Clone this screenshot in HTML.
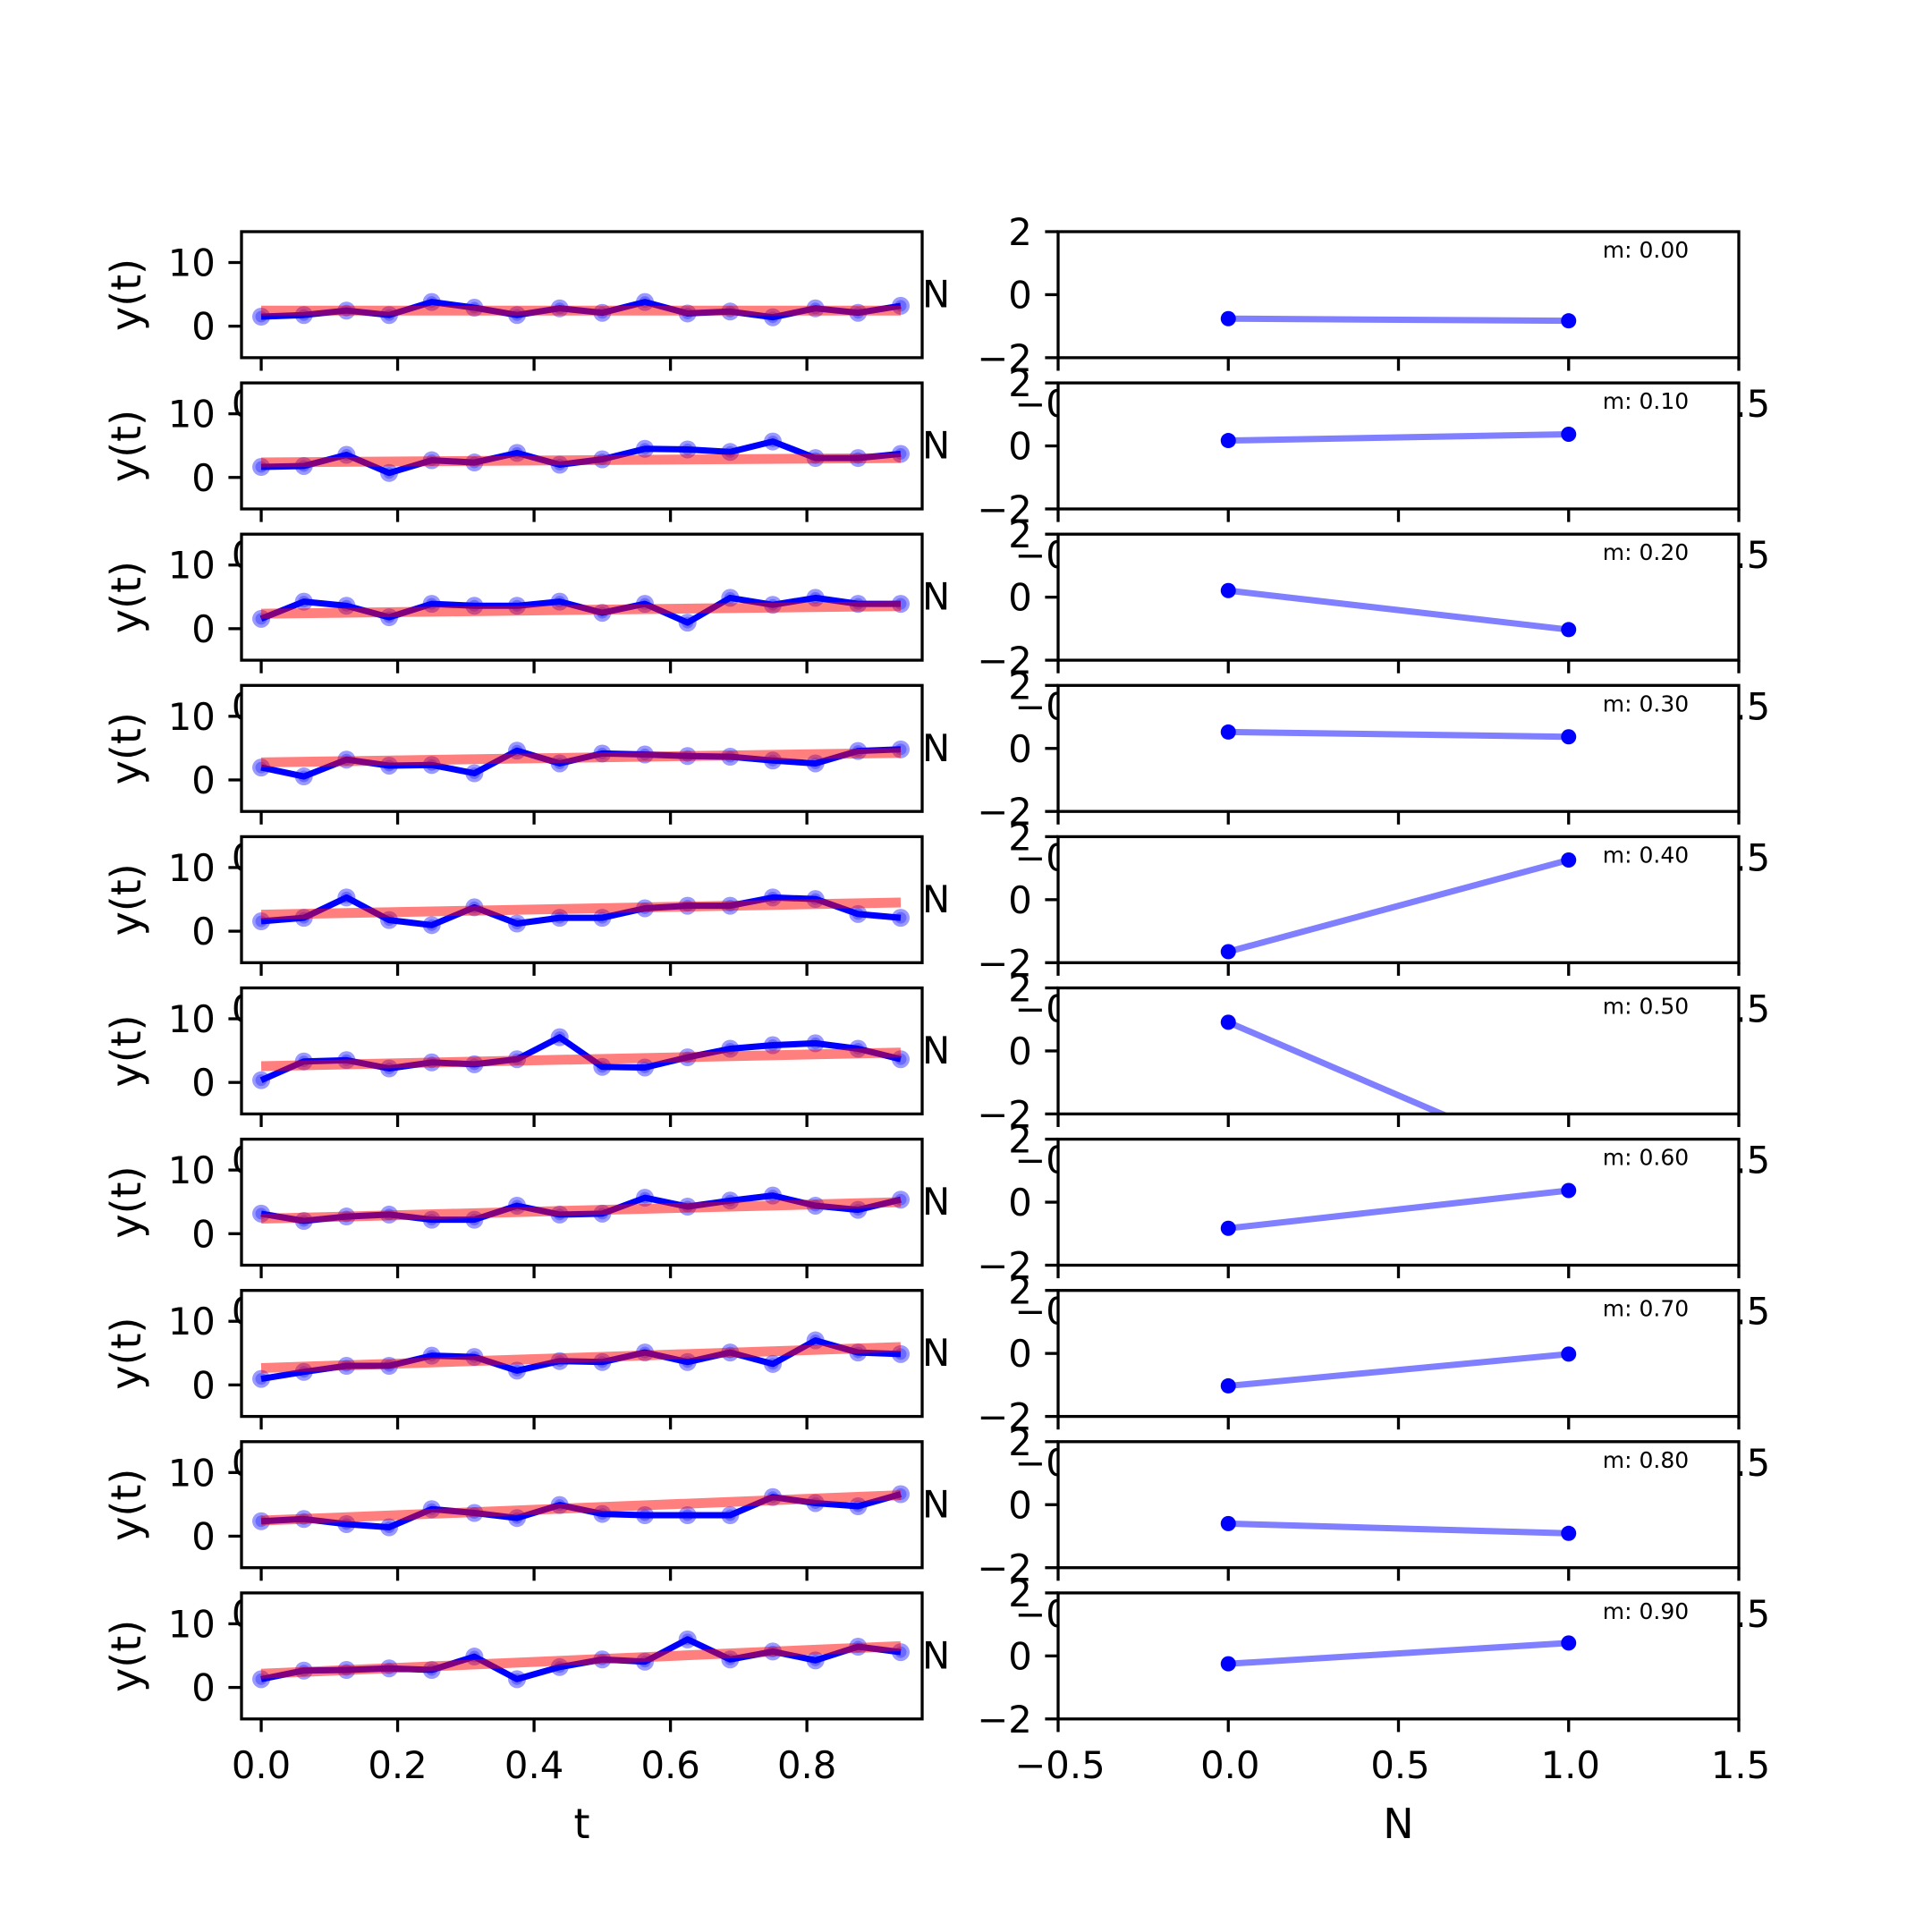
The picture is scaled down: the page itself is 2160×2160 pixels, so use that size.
<!DOCTYPE html>
<html><head><meta charset="utf-8"><style>
html,body{margin:0;padding:0;background:#fff;}
svg{display:block;font-family:"DejaVu Sans","Liberation Sans",sans-serif;}
</style></head>
<body>
<svg id="fig" xmlns="http://www.w3.org/2000/svg" width="2160" height="2160" viewBox="0 0 2160 2160">
<rect x="0" y="0" width="2160" height="2160" fill="#fff"/>
</svg>
<script>
const tValues = [0,0.0625,0.125,0.1875,0.25,0.3125,0.375,0.4375,0.5,0.5625,0.625,0.6875,0.75,0.8125,0.875,0.9375];
const y0 = [1.5,1.75,2.45,1.75,3.8,2.9,1.75,2.8,2.1,3.8,2.0,2.3,1.4,2.8,2.1,3.2];
const y1 = [1.65,1.8,3.55,0.7,2.7,2.35,3.85,2.0,2.85,4.5,4.4,4.0,5.65,3.05,3.05,3.7];
const y2 = [1.55,4.25,3.6,1.8,3.9,3.6,3.6,4.25,2.5,3.9,0.95,4.85,3.75,4.85,3.9,3.9];
const y3 = [1.95,0.55,3.2,2.25,2.35,1.05,4.6,2.6,4.15,4.0,3.75,3.65,3.05,2.6,4.55,4.8];
const y4 = [1.55,2.1,5.3,1.75,0.95,3.75,1.2,2.1,2.1,3.6,4.0,4.0,5.3,5.05,2.7,2.1];
const y5 = [0.35,3.3,3.5,2.2,3.15,2.85,3.65,7.1,2.45,2.35,3.95,5.3,5.85,6.15,5.3,3.65];
const y6 = [3.15,2.0,2.7,3.0,2.2,2.2,4.4,3.0,3.15,5.65,4.25,5.2,6.0,4.4,3.75,5.35];
const y7 = [0.95,2.05,3.0,3.0,4.6,4.4,2.25,3.75,3.6,5.1,3.6,5.1,3.3,7.0,5.1,4.85];
const y8 = [2.35,2.7,1.9,1.4,4.25,3.65,2.85,4.9,3.5,3.3,3.3,3.3,6.15,5.2,4.7,6.6];
const y9 = [1.3,2.65,2.75,3.0,2.75,4.85,1.3,3.2,4.4,4.05,7.55,4.4,5.65,4.25,6.4,5.55];
const blueSeries = [y0,y1,y2,y3,y4,y5,y6,y7,y8,y9];
const redStart = [2.45,2.35,2.35,2.75,2.6,2.55,2.35,2.65,2.45,2.15];
const redEnd = [2.45,3.05,3.55,4.25,4.5,4.7,4.95,5.95,6.45,6.5];
const nValues = [0,1];
const rightStart = [-0.76,0.17,0.21,0.52,-1.65,0.91,-0.83,-1.03,-0.6,-0.25];
const rightEnd = [-0.83,0.37,-1.03,0.37,1.26,-3.73,0.37,-0.02,-0.91,0.41];
const mLabels = ["m: 0.00","m: 0.10","m: 0.20","m: 0.30","m: 0.40","m: 0.50","m: 0.60","m: 0.70","m: 0.80","m: 0.90"];
const leftXTicks = [0,0.2,0.4,0.6,0.8];
const leftXTickLabels = ["0.0","0.2","0.4","0.6","0.8"];
const leftYTicks = [0,10];
const leftYTickLabels = ["0","10"];
const rightXTicks = [-0.5,0,0.5,1,1.5];
const rightXTickLabels = ["\u22120.5","0.0","0.5","1.0","1.5"];
const rightYTicks = [-2,0,2];
const rightYTickLabels = ["\u22122","0","2"];

const NS = "http://www.w3.org/2000/svg";
const svg = document.getElementById('fig');
function mk(tag, attrs, parent, text){
  const e = document.createElementNS(NS, tag);
  for (const k in attrs) e.setAttribute(k, attrs[k]);
  if (text !== undefined) e.textContent = text;
  (parent||svg).appendChild(e);
  return e;
}
const L0=270, L1=1031, R0=1183, R1=1944, TOP=259, PITCH=169.1, H=140.9;
const FS=41.7, LFS=46, TL=14.6, PAD=14.6, SW=3.3;
const LX0=-0.0289, LX1=0.969, LY0=-4.95, LY1=14.85;
const RX0=-0.5, RX1=1.5, RY0=-2, RY1=2;
function xL(t){ return L0 + (t-LX0)/(LX1-LX0)*(L1-L0); }
function yL(v,i){ const top=TOP+i*PITCH; return top + (LY1-v)/(LY1-LY0)*H; }
function xR(n){ return R0 + (n-RX0)/(RX1-RX0)*(R1-R0); }
function yR(v,i){ const top=TOP+i*PITCH; return top + (RY1-v)/(RY1-RY0)*H; }

const defs = mk('defs',{});
for (let i=0;i<10;i++){
  const top=TOP+i*PITCH;
  // ---------- left axes ----------
  const cpL = mk('clipPath',{id:'cl'+i},defs);
  mk('rect',{x:L0,y:top,width:L1-L0,height:H},cpL);
  const gL = mk('g',{});
  
  
  const bgL = mk('rect',{x:L0,y:top,width:L1-L0,height:H,fill:'#fff'},gL);
  
  
  const plotL = mk('g',{'clip-path':'url(#cl'+i+')'},gL);
  const ys = blueSeries[i];
  for (let k=0;k<tValues.length;k++){
    const c1 = mk('circle',{cx:xL(tValues[k]),cy:yL(ys[k],i),r:10,fill:'#0000ff','fill-opacity':0.4},plotL);
    
    
    const c2 = mk('circle',{cx:xL(tValues[k]),cy:yL(ys[k],i),r:6.5,fill:'#0000ff','fill-opacity':0.3},plotL);
    
    
  }
  const pts = tValues.map((t,k)=>xL(t).toFixed(1)+','+yL(ys[k],i).toFixed(1)).join(' ');
  const bl = mk('polyline',{points:pts,fill:'none',stroke:'#0000ff','stroke-width':7,'stroke-linejoin':'round'},plotL);
  
  
  const tEnd = tValues[tValues.length-1];
  const rl = mk('line',{x1:xL(0),y1:yL(redStart[i],i),x2:xL(tEnd),y2:yL(redEnd[i],i),stroke:'#ff0000','stroke-opacity':0.5,'stroke-width':11},plotL);
  
  
  const spL = mk('rect',{x:L0,y:top,width:L1-L0,height:H,fill:'none',stroke:'#000','stroke-width':SW},gL);
  
  
  for (let k=0;k<leftYTicks.length;k++){
    const yy=yL(leftYTicks[k],i);
    const tk = mk('line',{x1:L0-TL,y1:yy,x2:L0,y2:yy,stroke:'#000','stroke-width':SW},gL);
    
    
    const lb = mk('text',{x:L0-TL-PAD,y:yy+15,'font-size':FS,'text-anchor':'end',fill:'#000'},gL,leftYTickLabels[k]);
    
    
  }
  for (let k=0;k<leftXTicks.length;k++){
    const xx=xL(leftXTicks[k]);
    const tk = mk('line',{x1:xx,y1:top+H,x2:xx,y2:top+H+TL,stroke:'#000','stroke-width':SW},gL);
    
    
    const lb = mk('text',{x:xx,y:top+H+TL+PAD+37,'font-size':FS,'text-anchor':'middle',fill:'#000'},gL,leftXTickLabels[k]);
    
    
  }
  const yl = mk('text',{x:0,y:0,'font-size':LFS,'text-anchor':'middle',fill:'#000',transform:'translate(157,'+(top+H/2)+') rotate(-90)'},gL,'y(t)');
  
  
  if (i===9){
    const xt = mk('text',{x:(L0+L1)/2,y:2055,'font-size':LFS,'text-anchor':'middle',fill:'#000'},gL,'t');
    
    
  }
  // ---------- right axes ----------
  const cpR = mk('clipPath',{id:'cr'+i},defs);
  mk('rect',{x:R0,y:top,width:R1-R0,height:H},cpR);
  const gR = mk('g',{});
  
  
  const bgR = mk('rect',{x:R0,y:top,width:R1-R0,height:H,fill:'#fff'},gR);
  
  
  const plotR = mk('g',{'clip-path':'url(#cr'+i+')'},gR);
  const rv = [rightStart[i], rightEnd[i]];
  const ln = mk('line',{x1:xR(nValues[0]),y1:yR(rv[0],i),x2:xR(nValues[1]),y2:yR(rv[1],i),stroke:'#0000ff','stroke-opacity':0.5,'stroke-width':7},plotR);
  
  
  for (let k=0;k<2;k++){
    const d = mk('circle',{cx:xR(nValues[k]),cy:yR(rv[k],i),r:8.5,fill:'#0000ff'},plotR);
    
    
  }
  const spR = mk('rect',{x:R0,y:top,width:R1-R0,height:H,fill:'none',stroke:'#000','stroke-width':SW},gR);
  
  
  const ml = mk('text',{x:R0+0.8*(R1-R0),y:top+29,'font-size':25,fill:'#000'},gR,mLabels[i]);
  
  
  for (let k=0;k<rightYTicks.length;k++){
    const yy=yR(rightYTicks[k],i);
    const tk = mk('line',{x1:R0-TL,y1:yy,x2:R0,y2:yy,stroke:'#000','stroke-width':SW},gR);
    
    
    const lb = mk('text',{x:R0-TL-PAD,y:yy+15,'font-size':FS,'text-anchor':'end',fill:'#000'},gR,rightYTickLabels[k]);
    
    
  }
  for (let k=0;k<rightXTicks.length;k++){
    const xx=xR(rightXTicks[k]);
    const tk = mk('line',{x1:xx,y1:top+H,x2:xx,y2:top+H+TL,stroke:'#000','stroke-width':SW},gR);
    
    
    const lb = mk('text',{x:xx+2,y:top+H+TL+PAD+37,'font-size':FS,'text-anchor':'middle',fill:'#000'},gR,rightXTickLabels[k]);
    
    
  }
  const ny = mk('text',{x:1031,y:top+H/2+14,'font-size':FS,'text-anchor':'start',fill:'#000'},gR,'N');
  
  
  if (i===9){
    const xt = mk('text',{x:(R0+R1)/2,y:2055,'font-size':LFS,'text-anchor':'middle',fill:'#000'},gR,'N');
    
    
  }
}
</script>
</body></html>
